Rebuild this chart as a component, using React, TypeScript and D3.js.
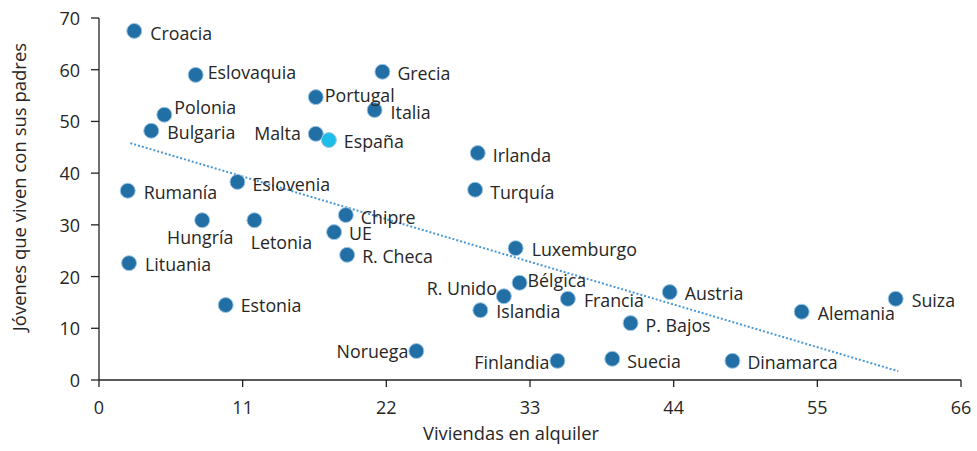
import React from "react";
import * as d3 from "d3";

const countries = ["Croacia","Eslovaquia","Polonia","Bulgaria","Portugal","Grecia","Italia","Malta","España","Irlanda","Turquía","Rumanía","Eslovenia","Hungría","Letonia","Chipre","UE","R. Checa","Lituania","Luxemburgo","Bélgica","R. Unido","Islandia","Francia","Estonia","Austria","Alemania","Suiza","P. Bajos","Noruega","Finlandia","Suecia","Dinamarca"];
const rentShare = [2.7,7.4,5.0,4.0,16.6,21.7,21.1,16.6,17.6,29.0,28.8,2.2,10.6,7.9,11.9,18.9,18.0,19.0,2.3,31.9,32.2,31.0,29.2,35.9,9.7,43.7,53.8,61.0,40.7,24.3,35.1,39.3,48.5];
const livingWithParents = [67.5,59.0,51.3,48.2,54.7,59.6,52.2,47.6,46.4,43.9,36.8,36.6,38.3,30.9,30.9,31.9,28.6,24.2,22.6,25.5,18.8,16.2,13.5,15.7,14.5,17.0,13.2,15.7,11.0,5.6,3.7,4.1,3.7];
const highlight = ["España"];
const trendX = [2.4, 61.2];
const trendY = [45.8, 1.7];
const xTicks = [0,11,22,33,44,55,66];
const yTicks = [0,10,20,30,40,50,60,70];

// label placement: [dx, dy, anchor]
const labelPos: Record<string, [number, number, string]> = {
  "Croacia": [16, 2, "start"], "Eslovaquia": [12, -3, "start"], "Polonia": [10, -8, "start"],
  "Bulgaria": [16, 1, "start"], "Portugal": [9, -2, "start"], "Grecia": [15, 1, "start"],
  "Italia": [16, 2, "start"], "Malta": [-15, -1, "end"], "España": [15, 1, "start"],
  "Irlanda": [15, 2, "start"], "Turquía": [15, 2, "start"], "Rumanía": [16, 1, "start"],
  "Eslovenia": [15, 2, "start"], "Hungría": [-2, 17, "middle"], "Letonia": [27, 22, "middle"],
  "Chipre": [15, 2, "start"], "UE": [15, 1, "start"], "R. Checa": [15, 1, "start"],
  "Lituania": [16, 1, "start"], "Luxemburgo": [16, 1, "start"], "Bélgica": [8, -3, "start"],
  "R. Unido": [-7, -8, "end"], "Islandia": [16, 1, "start"], "Francia": [16, 1, "start"],
  "Estonia": [15, 0, "start"], "Austria": [15, 1, "start"], "Alemania": [16, 1, "start"],
  "Suiza": [16, 1, "start"], "P. Bajos": [15, 2, "start"], "Noruega": [-8, 0, "end"],
  "Finlandia": [-8, 1, "end"], "Suecia": [15, 2, "start"], "Dinamarca": [15, 1, "start"],
};

export default function App() {
  const W = 977, H = 451;
  const x = d3.scaleLinear().domain([0, 66]).range([99, 961]);
  const y = d3.scaleLinear().domain([0, 70]).range([380, 18]);
  const font = "'Open Sans', 'Noto Sans', sans-serif";
  const textColor = "#262626";
  const data = countries.map((c, i) => ({ c, x: rentShare[i], y: livingWithParents[i] }));
  const line = d3.line<number>().x((_, i) => x(trendX[i])).y((_, i) => y(trendY[i]));
  return (
    <svg width={W} height={H} style={{ position: "absolute", left: 0, top: 0, background: "#fff" }} fontFamily={font}>
      {/* axes */}
      <line x1={x(0)} x2={x(66)} y1={y(0)} y2={y(0)} stroke="#222" strokeWidth={1.3} />
      <line x1={x(0)} x2={x(0)} y1={y(0)} y2={y(70)} stroke="#222" strokeWidth={1.3} />
      {xTicks.map(t => (
        <g key={"x" + t}>
          <line x1={x(t)} x2={x(t)} y1={y(0)} y2={y(0) + 7} stroke="#222" strokeWidth={1.3} />
          <text x={x(t)} y={y(0) + 27} textAnchor="middle" dominantBaseline="central" fontSize={18} fill={textColor}>{t}</text>
        </g>
      ))}
      {yTicks.map(t => (
        <g key={"y" + t}>
          <line x1={x(0) - 8} x2={x(0)} y1={y(t)} y2={y(t)} stroke="#222" strokeWidth={1.3} />
          <text x={x(0) - 19} y={y(t)} textAnchor="end" dominantBaseline="central" fontSize={18} fill={textColor}>{t}</text>
        </g>
      ))}
      <text x={511} y={432} textAnchor="middle" dominantBaseline="central" fontSize={18.3} fill={textColor}>Viviendas en alquiler</text>
      <text transform={`translate(18,187) rotate(-90)`} textAnchor="middle" dominantBaseline="central" fontSize={18.5} fill={textColor}>Jóvenes que viven con sus padres</text>
      {/* trend */}
      <path d={line(trendX) || ""} fill="none" stroke="#4a98d8" strokeWidth={2} strokeDasharray="2 2" />
      {/* points */}
      {data.map(d => (
        <circle key={d.c} cx={x(d.x)} cy={y(d.y)} r={7.5}
          fill={highlight.includes(d.c) ? "#1ebde8" : "#226fa6"} stroke="#9fc7e6" strokeWidth={1} />
      ))}
      {data.map(d => {
        const [dx, dy, anchor] = labelPos[d.c];
        return (
          <text key={"l" + d.c} x={x(d.x) + dx} y={y(d.y) + dy} textAnchor={anchor as any}
            dominantBaseline="central" fontSize={17.8} fill={textColor}>{d.c}</text>
        );
      })}
    </svg>
  );
}
